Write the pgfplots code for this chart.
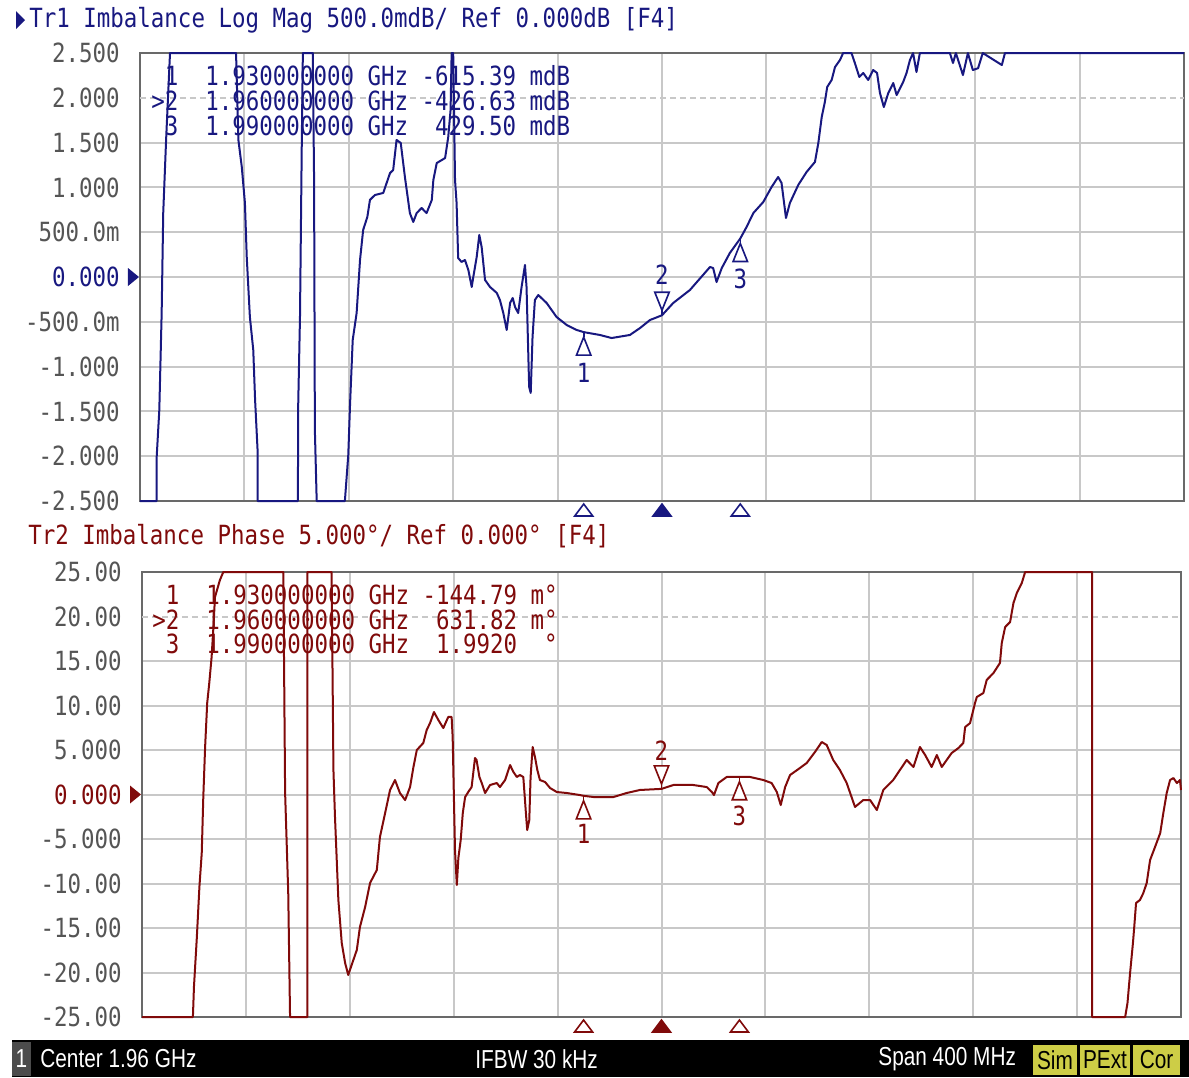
\documentclass[border=0pt]{standalone}
\usepackage{fontspec}
\usepackage{pgfplots}
\pgfplotsset{compat=1.18}
\newfontfamily\vnafont[FakeStretch=0.85]{DejaVu Sans Mono}
\newfontfamily\barfont[FakeStretch=0.8]{Liberation Sans}
\newcommand\vf{\vnafont\fontsize{13.2pt}{15pt}\selectfont}
\newcommand\barf{\barfont\fontsize{13pt}{15pt}\selectfont}
\definecolor{trA}{RGB}{24,24,128}
\definecolor{trB}{RGB}{128,10,10}
\definecolor{gridc}{RGB}{200,200,200}
\definecolor{framec}{RGB}{105,105,105}
\definecolor{labc}{RGB}{85,85,85}
\definecolor{barY}{RGB}{205,205,70}

% marker glyphs: apex on the trace
\pgfdeclareplotmark{mup}{%
  \pgfpathmoveto{\pgfpointorigin}
  \pgfpathlineto{\pgfpoint{0pt}{-2.5pt}}
  \pgfusepathqstroke
  \pgfpathmoveto{\pgfpoint{0pt}{-2.5pt}}
  \pgfpathlineto{\pgfpoint{3.6pt}{-11.5pt}}
  \pgfpathlineto{\pgfpoint{-3.6pt}{-11.5pt}}
  \pgfpathclose
  \pgfusepathqfillstroke}
\pgfdeclareplotmark{mdown}{%
  \pgfpathmoveto{\pgfpointorigin}
  \pgfpathlineto{\pgfpoint{0pt}{2.5pt}}
  \pgfusepathqstroke
  \pgfpathmoveto{\pgfpoint{0pt}{2.5pt}}
  \pgfpathlineto{\pgfpoint{3.6pt}{11.5pt}}
  \pgfpathlineto{\pgfpoint{-3.6pt}{11.5pt}}
  \pgfpathclose
  \pgfusepathqfillstroke}
\pgfdeclareplotmark{mbot}{%
  \pgfpathmoveto{\pgfpoint{0pt}{-1.5pt}}
  \pgfpathlineto{\pgfpoint{4.5pt}{-7.5pt}}
  \pgfpathlineto{\pgfpoint{-4.5pt}{-7.5pt}}
  \pgfpathclose
  \pgfusepathqfillstroke}

\pgfplotsset{vna/.style={
  scale only axis, clip=false,
  xmin=1760, xmax=2160,
  xtick={1760,1800,...,2160}, xticklabels={},
  grid=major, major grid style={gridc, line width=1pt},
  major tick length=0pt,
  axis line style={framec, line width=1pt},
  yticklabel style={font=\vf, text=labc, anchor=east, inner sep=0pt, xshift=-10pt},
}}

\begin{document}
\begin{tikzpicture}[x=0.5pt,y=-0.5pt]
\fill[white] (0,0) rectangle (1189,1077);
\path[use as bounding box] (0,0) rectangle (1189,1077);
\coordinate (topSW) at (140,501);
\coordinate (botSW) at (142,1017);

% ---------- Tr1 log mag ----------
\begin{axis}[vna, at={(topSW)}, anchor=south west,
  width=522pt, height=224pt, ymin=-2.5, ymax=2.5,
  ytick={-2.5,-2,-1.5,-1,-0.5,0,0.5,1,1.5,2.5},
  yticklabels={-2.500,-2.000,-1.500,-1.000,-500.0m,{\textcolor{trA}{0.000}},500.0m,1.000,1.500,2.500},
  extra y ticks={2}, extra y tick labels={2.000},
  extra y tick style={major grid style={gridc, line width=1pt, dash pattern=on 3pt off 2pt}}]
\addplot[trA, line width=1pt, line join=round] coordinates {
(1760,-2.5) (1766.4,-2.5) (1766.4,-2.005) (1767.4,-1.484) (1768.3,-0.40) (1768.9,0.714)
(1770.0,1.53) (1771.5,2.5) (1796.8,2.5) (1797.7,1.53) (1799.0,1.228) (1800.2,0.826)
(1800.9,0.223) (1802.1,-0.446) (1803.4,-0.815) (1804.1,-1.373) (1805.1,-1.964) (1805.1,-2.5)
(1820.5,-2.5) (1820.6,-1.45) (1821.3,-0.446) (1822.0,1.53) (1822.4,2.5) (1826.2,2.5)
(1826.7,1.083) (1827.0,-1.707) (1827.7,-2.5) (1838.5,-2.5) (1839.8,-1.986) (1840.5,-1.406)
(1841.5,-0.703) (1843.0,-0.402) (1844.3,0.19) (1845.5,0.525) (1847.1,0.67) (1848.1,0.86)
(1850.0,0.915) (1853.2,0.938) (1854.5,1.05) (1855.8,1.16) (1857.0,1.194) (1858.3,1.53)
(1859.9,1.496) (1861.5,1.116) (1863.4,0.714) (1864.7,0.614) (1866.0,0.714) (1867.9,0.77)
(1869.8,0.714) (1871.8,0.86) (1872.4,1.083) (1873.7,1.272) (1876.9,1.328) (1878.1,1.563)
(1879.0,1.864) (1879.4,2.5) (1880.0,2.5) (1880.7,1.083) (1881.3,0.826) (1881.9,0.212)
(1883.2,0.168) (1884.5,0.19) (1885.8,0.078) (1887.1,-0.111) (1887.7,0.0) (1889.0,0.223)
(1890.0,0.469) (1890.9,0.335) (1892.2,-0.033) (1894.1,-0.111) (1896.7,-0.178) (1897.9,-0.257)
(1899.2,-0.402) (1900.5,-0.591) (1901.8,-0.29) (1902.8,-0.234) (1903.7,-0.335) (1904.9,-0.402)
(1906.2,-0.111) (1907.5,0.134) (1908.1,-0.111) (1908.7,-0.781) (1909.1,-1.227) (1909.7,-1.294)
(1910.4,-0.669) (1911.3,-0.257) (1912.6,-0.201) (1915.8,-0.29) (1919.6,-0.446) (1923.5,-0.536)
(1927.3,-0.591) (1930,-0.615) (1936.2,-0.647) (1940.7,-0.681) (1947.7,-0.647) (1951.6,-0.569)
(1955.4,-0.48) (1960,-0.427) (1964.3,-0.29) (1970.7,-0.145) (1978.4,0.112) (1979.6,0.1)
(1980.9,-0.056) (1982.9,0.1) (1986.0,0.268) (1990,0.43) (1992.4,0.558) (1995.0,0.714)
(1998.8,0.837) (2002.0,1.005) (2004.5,1.116) (2005.8,1.05) (2007.5,0.659) (2009.0,0.826)
(2012.2,1.027) (2015.4,1.172) (2018.6,1.284) (2019.9,1.496) (2021.2,1.786) (2022.4,1.953)
(2023.3,2.121) (2025.0,2.199) (2026.3,2.344) (2028.2,2.422) (2029.4,2.5) (2032.6,2.5)
(2033.9,2.388) (2035.6,2.232) (2037.1,2.277) (2039.0,2.199) (2040.9,2.31) (2042.4,2.277)
(2043.5,2.054) (2045.0,1.897) (2046.7,2.054) (2048.6,2.165) (2049.9,2.031) (2052.4,2.176)
(2053.7,2.277) (2055.0,2.422) (2056.2,2.5) (2057.5,2.288) (2058.8,2.5) (2070.3,2.5)
(2071.5,2.388) (2072.6,2.5) (2075.3,2.254) (2077.2,2.5) (2079.1,2.31) (2081.1,2.33)
(2082.9,2.5) (2090.2,2.366) (2091.4,2.5) (2160,2.5)
};
% markers on the trace
\addplot[trA, only marks, mark=mup, mark options={fill=white, line width=0.8pt},
  point meta=explicit symbolic, nodes near coords,
  every node near coord/.append style={font=\vf, text=trA, anchor=north, inner sep=0pt, yshift=-15pt}]
  coordinates {(1930,-0.615) [1] (1990,0.43) [3]};
\addplot[trA, only marks, mark=mdown, mark options={fill=white, line width=0.8pt},
  point meta=explicit symbolic, nodes near coords,
  every node near coord/.append style={font=\vf, text=trA, anchor=south, inner sep=0pt, yshift=15pt}]
  coordinates {(1960,-0.427) [2]};
% marker flags below the grid
\addplot[trA, only marks, mark=mbot, mark options={fill=white, line width=0.8pt}]
  coordinates {(1930,-2.5) (1990,-2.5)};
\addplot[trA, only marks, mark=mbot, mark options={fill=trA, line width=0.8pt}]
  coordinates {(1960,-2.5)};
\fill[trA] ([xshift=-6pt,yshift=4.5pt]axis cs:1760,0) -- ([xshift=-0.5pt]axis cs:1760,0)
  -- ([xshift=-6pt,yshift=-4.5pt]axis cs:1760,0) -- cycle;
\end{axis}

% ---------- Tr2 phase ----------
\begin{axis}[vna, at={(botSW)}, anchor=south west,
  width=519.5pt, height=222.5pt, ymin=-25, ymax=25,
  ytick={-25,-20,-15,-10,-5,0,5,10,15,25},
  yticklabels={-25.00,-20.00,-15.00,-10.00,-5.000,{\textcolor{trB}{0.000}},5.000,10.00,15.00,25.00},
  extra y ticks={20}, extra y tick labels={20.00},
  extra y tick style={major grid style={gridc, line width=1pt, dash pattern=on 3pt off 2pt}}]
\addplot[trB, line width=1pt, line join=round] coordinates {
(1760,-25) (1779.6,-25) (1780.0,-21.63) (1781.1,-16.12) (1782.1,-10.39) (1783.0,-6.57)
(1783.6,-0.28) (1784.3,5.34) (1785.1,10.28) (1785.9,12.53) (1786.8,15.45) (1787.5,18.82)
(1788.1,22.19) (1790.0,24.10) (1791.3,25) (1814.4,25) (1815.1,0.17) (1816.3,-11.07)
(1817.0,-25) (1823.7,-25) (1823.7,25) (1833.0,25) (1833.7,2.75) (1834.3,-2.53)
(1835.6,-11.85) (1836.9,-16.69) (1838.2,-18.93) (1839.4,-20.28) (1840.7,-19.16) (1842.7,-17.47)
(1843.9,-14.89) (1845.9,-12.64) (1847.8,-9.94) (1850.4,-8.48) (1851.6,-4.78) (1853.6,-2.08)
(1855.5,0.51) (1857.4,1.63) (1859.3,0.17) (1861.3,-0.62) (1863.2,0.84) (1864.5,3.09)
(1865.8,5.0) (1868.3,5.79) (1869.6,7.25) (1870.9,8.03) (1872.4,9.27) (1874.1,8.37)
(1876.0,7.47) (1877.9,8.71) (1879.2,8.71) (1879.6,6.46) (1880.5,-6.24) (1881.2,-10.17)
(1881.8,-7.13) (1882.7,-5.11) (1883.5,-2.08) (1884.4,-0.28) (1885.6,0.28) (1886.9,0.84)
(1888.2,4.10) (1888.8,3.88) (1889.9,1.97) (1890.8,1.29) (1892.1,0.17) (1894.0,1.07)
(1896.6,1.29) (1897.8,0.84) (1899.8,1.63) (1901.7,3.31) (1903.0,2.53) (1904.3,1.97)
(1905.5,2.19) (1906.8,1.97) (1907.8,-2.08) (1908.3,-3.99) (1909.1,-2.87) (1909.6,1.97)
(1910.4,5.34) (1911.3,4.21) (1912.2,2.75) (1913.2,1.63) (1915.2,1.40) (1917.1,0.73)
(1919.7,0.28) (1923.5,0.17) (1928.6,-0.06) (1930,-0.145) (1933.8,-0.28) (1941.5,-0.28)
(1946.6,0.17) (1951.7,0.51) (1960,0.632) (1964.6,1.07) (1972.2,1.07) (1977.4,0.84)
(1979.4,0.28) (1980.2,-0.06) (1981.9,1.29) (1985.1,1.97) (1990,1.992) (1994.1,1.97)
(1999.2,1.63) (2002.4,1.29) (2004.4,0.28) (2005.9,-1.18) (2007.6,0.84) (2009.5,2.19)
(2013.3,2.98) (2015.9,3.54) (2019.1,4.78) (2021.7,5.90) (2023.6,5.56) (2026.1,3.88)
(2028.7,2.75) (2031.3,1.29) (2034.5,-1.40) (2037.7,-0.62) (2040.3,-0.62) (2042.9,-1.74)
(2045.4,0.51) (2049.2,1.63) (2054.4,3.88) (2057.0,3.09) (2059.5,5.34) (2061.5,4.44)
(2064.0,3.09) (2066.0,4.44) (2067.9,3.09) (2069.8,3.88) (2071.7,4.66) (2074.3,5.22)
(2076.2,5.79) (2076.9,7.58) (2078.8,8.03) (2080.7,10.28) (2081.4,10.96) (2083.9,11.40)
(2085.2,12.87) (2087.8,13.65) (2090.3,14.78) (2091.0,17.02) (2092.3,18.82) (2094.2,19.38)
(2095.5,21.52) (2096.8,22.64) (2098.7,23.76) (2100.0,25) (2125.8,25) (2125.8,-25)
(2138.5,-25) (2139.4,-23.43) (2140.4,-20.06) (2141.5,-16.69) (2142.0,-14.89) (2142.7,-12.19)
(2144.2,-11.85) (2145.5,-11.07) (2146.8,-9.94) (2148.1,-7.36) (2150.0,-5.90) (2152.0,-4.33)
(2153.2,-2.08) (2154.5,0.17) (2155.8,1.63) (2157.1,1.85) (2158.4,1.29) (2159.6,1.63)
(2160,0.51)
};
\addplot[trB, only marks, mark=mup, mark options={fill=white, line width=0.8pt},
  point meta=explicit symbolic, nodes near coords,
  every node near coord/.append style={font=\vf, text=trB, anchor=north, inner sep=0pt, yshift=-14pt}]
  coordinates {(1930,-0.145) [1] (1990,1.992) [3]};
\addplot[trB, only marks, mark=mdown, mark options={fill=white, line width=0.8pt},
  point meta=explicit symbolic, nodes near coords,
  every node near coord/.append style={font=\vf, text=trB, anchor=south, inner sep=0pt, yshift=14pt}]
  coordinates {(1960,0.632) [2]};
\addplot[trB, only marks, mark=mbot, mark options={fill=white, line width=0.8pt}]
  coordinates {(1930,-25) (1990,-25)};
\addplot[trB, only marks, mark=mbot, mark options={fill=trB, line width=0.8pt}]
  coordinates {(1960,-25)};
\fill[trB] ([xshift=-6pt,yshift=4.5pt]axis cs:1760,0) -- ([xshift=-0.5pt]axis cs:1760,0)
  -- ([xshift=-6pt,yshift=-4.5pt]axis cs:1760,0) -- cycle;
\end{axis}

% ---------- titles and marker readouts ----------
\fill[trA] (16,11) -- (25,20) -- (16,29) -- cycle;
\node[anchor=west, inner sep=0pt, font=\vf, text=trA] at (29,20)
  {Tr1 Imbalance Log Mag 500.0mdB/ Ref 0.000dB [F4]};
\node[anchor=west, inner sep=0pt, font=\vf, text=trB] at (28,536)
  {Tr2 Imbalance Phase 5.000°/ Ref 0.000° [F4]};

\begin{scope}[every node/.style={anchor=west, inner sep=0pt, font=\vf}]
\node[text=trA] at (151,76)  {\hphantom{>}1~~1.930000000 GHz -615.39 mdB};
\node[text=trA] at (151,101) {>2~~1.960000000 GHz -426.63 mdB};
\node[text=trA] at (151,126) {\hphantom{>}3~~1.990000000 GHz ~429.50 mdB};
\node[text=trB] at (152,595) {\hphantom{>}1~~1.930000000 GHz -144.79 m°};
\node[text=trB] at (152,620) {>2~~1.960000000 GHz ~631.82 m°};
\node[text=trB] at (152,644) {\hphantom{>}3~~1.990000000 GHz ~1.9920 ~°};
\end{scope}

% ---------- status bar ----------
\fill[black] (12,1040) rectangle (1189,1077);
\fill[black!70] (12,1042) rectangle (31,1076);
\node[white, font=\barf, inner sep=0pt] at (21.5,1059) {1};
\node[white, font=\barf, anchor=west, inner sep=0pt] at (40,1059) {Center 1.96 GHz};
\node[white, font=\barf, anchor=west, inner sep=0pt] at (475,1059) {IFBW 30 kHz};
\node[white, font=\barf, anchor=west, inner sep=0pt] at (878,1059) {Span 400 MHz};
\fill[barY] (1033,1045) rectangle (1077,1075);
\fill[barY] (1080,1045) rectangle (1130,1075);
\fill[barY] (1133,1045) rectangle (1180,1075);
\node[black, font=\barf, inner sep=0pt] at (1055,1060) {Sim};
\node[black, font=\barf, inner sep=0pt] at (1105,1060) {PExt};
\node[black, font=\barf, inner sep=0pt] at (1156.5,1060) {Cor};
\end{tikzpicture}
\end{document}
